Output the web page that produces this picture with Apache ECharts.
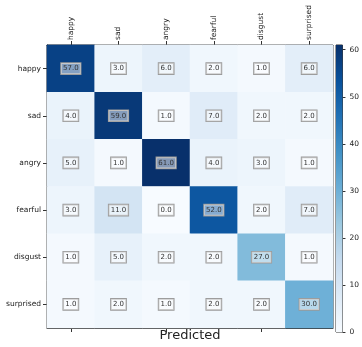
<!DOCTYPE html>
<html>
<head>
<meta charset="utf-8">
<script src="https://cdn.jsdelivr.net/npm/echarts@6/dist/echarts.min.js"></script>
<style>html,body{margin:0;padding:0;background:#fff;}#c{width:362px;height:347px;}</style>
</head>
<body>
<div id="c"></div>
<script>
var categories = ['happy', 'sad', 'angry', 'fearful', 'disgust', 'surprised'];
var rowHappy     = [57, 3, 6, 2, 1, 6];
var rowSad       = [4, 59, 1, 7, 2, 2];
var rowAngry     = [5, 1, 61, 4, 3, 1];
var rowFearful   = [3, 11, 0, 52, 2, 7];
var rowDisgust   = [1, 5, 2, 2, 27, 1];
var rowSurprised = [1, 2, 1, 2, 2, 30];
var colorbarTicks = [0, 10, 20, 30, 40, 50, 60];
var colorbarMax = 61;
var xAxisTitle = 'Predicted';

var rows = [rowHappy, rowSad, rowAngry, rowFearful, rowDisgust, rowSurprised];
var blues = ['#f7fbff', '#deebf7', '#c6dbef', '#9ecae1', '#6baed6', '#4292c6', '#2171b5', '#08519c', '#08306b'];

var data = [];
rows.forEach(function (r, i) {
  r.forEach(function (v, j) { data.push([j, i, v]); });
});

var font = 'DejaVu Sans';
var axisCol = '#333';
var gradStops = blues.map(function (c, i) { return { offset: 1 - i / (blues.length - 1), color: c }; });

var chart = echarts.init(document.getElementById('c'), null, { renderer: 'canvas' });
chart.setOption({
  backgroundColor: '#fff',
  animation: false,
  textStyle: { fontFamily: font },
  grid: [
    { left: 47, top: 45, width: 286, height: 287, show: true, borderColor: axisCol, borderWidth: 1, backgroundColor: 'transparent' },
    { left: 336, top: 45, width: 14, height: 287, show: true, borderColor: axisCol, borderWidth: 1, backgroundColor: 'transparent' }
  ],
  visualMap: {
    show: false, type: 'continuous', min: 0, max: colorbarMax, seriesIndex: 0, dimension: 2,
    inRange: { color: blues }
  },
  xAxis: [
    {
      type: 'category', gridIndex: 0, position: 'top', data: categories,
      axisLine: { show: true, lineStyle: { color: axisCol } },
      axisTick: { show: true, alignWithLabel: true, length: 4, lineStyle: { color: axisCol } },
      axisLabel: { rotate: -90, fontSize: 7.5, color: '#222', margin: 5, fontFamily: font },
      splitLine: { show: false }
    },
    {
      type: 'category', gridIndex: 0, position: 'bottom', data: categories,
      axisLine: { show: true, lineStyle: { color: axisCol } },
      axisTick: { show: true, alignWithLabel: true, length: 4, lineStyle: { color: axisCol } },
      axisLabel: { show: false },
      name: xAxisTitle, nameLocation: 'middle', nameGap: 1,
      nameTextStyle: { fontSize: 13, color: '#222', fontFamily: font },
      splitLine: { show: false }
    },
    {
      type: 'category', gridIndex: 1, data: ['cb'], show: false
    }
  ],
  yAxis: [
    {
      type: 'category', gridIndex: 0, inverse: true, data: categories,
      axisLine: { show: true, lineStyle: { color: axisCol } },
      axisTick: { show: true, alignWithLabel: true, length: 4, lineStyle: { color: axisCol } },
      axisLabel: { fontSize: 7.5, color: '#222', margin: 6, fontFamily: font },
      splitLine: { show: false }
    },
    {
      type: 'value', gridIndex: 1, position: 'right', min: 0, max: colorbarMax,
      axisLine: { show: false },
      axisTick: { show: true, length: 3, lineStyle: { color: axisCol }, customValues: colorbarTicks },
      axisLabel: { fontSize: 7.5, color: '#222', margin: 7, fontFamily: font, customValues: colorbarTicks },
      splitLine: { show: false }
    }
  ],
  series: [
    {
      type: 'heatmap', xAxisIndex: 0, yAxisIndex: 0, data: data,
      label: {
        show: true,
        formatter: function (p) { return p.value[2].toFixed(1); },
        fontSize: 7, color: '#333', fontFamily: font,
        backgroundColor: 'rgba(255,255,255,0.5)',
        borderColor: '#999', borderWidth: 0.8,
        padding: [2, 2, 1, 2], lineHeight: 8
      },
      emphasis: { disabled: true },
      silent: true
    },
    {
      type: 'bar', xAxisIndex: 2, yAxisIndex: 1, data: [colorbarMax],
      barWidth: '100%', silent: true,
      itemStyle: { color: new echarts.graphic.LinearGradient(0, 0, 0, 1, gradStops) }
    }
  ]
});
</script>
</body>
</html>
